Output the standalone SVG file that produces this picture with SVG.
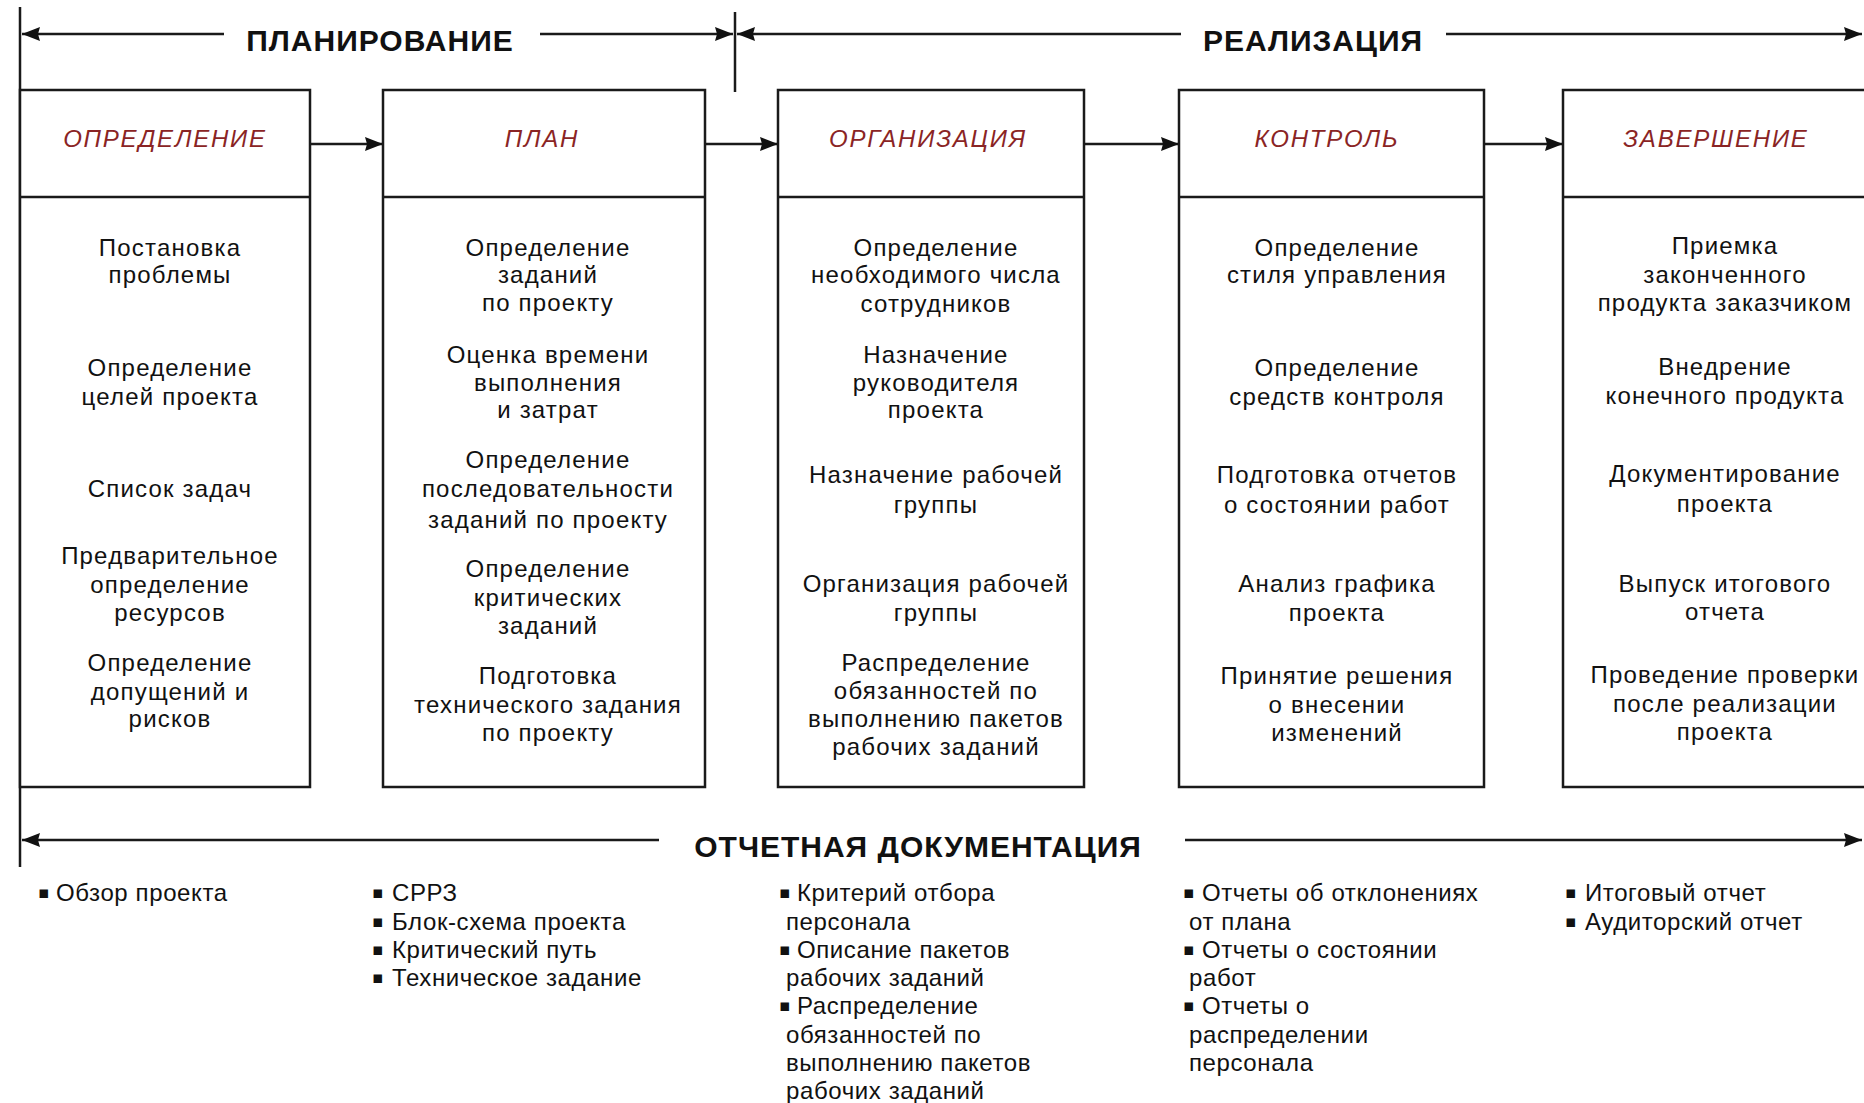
<svg xmlns="http://www.w3.org/2000/svg" width="1864" height="1103" viewBox="0 0 1864 1103">
<style>
.bg{fill:#ffffff}
.box{fill:#ffffff;stroke:#1a1a1a;stroke-width:2.5}
.sep{stroke:#1a1a1a;stroke-width:2.5}
.ln{stroke:#1a1a1a;stroke-width:2.5;fill:none}
.title{font-family:"Liberation Sans",Arial,sans-serif;font-weight:bold;font-size:30px;letter-spacing:1px;fill:#111;text-anchor:middle}
.hdr{font-family:"Liberation Sans",Arial,sans-serif;font-style:italic;font-size:24px;letter-spacing:1.8px;fill:#8a2424;text-anchor:middle}
.body{font-family:"Liberation Sans",Arial,sans-serif;font-size:24px;letter-spacing:1.2px;fill:#111;text-anchor:middle}
.list{font-family:"Liberation Sans",Arial,sans-serif;font-size:24px;letter-spacing:0.6px;fill:#111}
.bul{font-family:"DejaVu Sans",sans-serif;font-size:17px;fill:#111}
</style>
<defs>
<marker id="ah" viewBox="0 0 18 16" refX="18" refY="8" markerWidth="18" markerHeight="16" markerUnits="userSpaceOnUse" orient="auto-start-reverse">
<path d="M0,1 L18,8 L0,15 L2,8 z" fill="#111"/>
</marker>
</defs>
<rect class="bg" x="0" y="0" width="1864" height="1103"/>

<g id="connectors">
<line class="ln" x1="20" y1="7" x2="20" y2="867"/>
<line class="ln" x1="735" y1="12" x2="735" y2="92"/>
<line class="ln" x1="22" y1="34" x2="224" y2="34" marker-start="url(#ah)"/>
<line class="ln" x1="540" y1="34" x2="733" y2="34" marker-end="url(#ah)"/>
<line class="ln" x1="737" y1="34" x2="1181" y2="34" marker-start="url(#ah)"/>
<line class="ln" x1="1446" y1="34" x2="1862" y2="34" marker-end="url(#ah)"/>
<line class="ln" x1="22" y1="840" x2="659" y2="840" marker-start="url(#ah)"/>
<line class="ln" x1="1185" y1="840" x2="1862" y2="840" marker-end="url(#ah)"/>
<line class="ln" x1="310" y1="144" x2="383" y2="144" marker-end="url(#ah)"/>
<line class="ln" x1="705" y1="144" x2="778" y2="144" marker-end="url(#ah)"/>
<line class="ln" x1="1084" y1="144" x2="1179" y2="144" marker-end="url(#ah)"/>
<line class="ln" x1="1484" y1="144" x2="1563" y2="144" marker-end="url(#ah)"/>
</g>

<g id="labels">
<text class="title" x="380" y="51">ПЛАНИРОВАНИЕ</text>
<text class="title" x="1313" y="51">РЕАЛИЗАЦИЯ</text>
<text class="title" x="918" y="857">ОТЧЕТНАЯ ДОКУМЕНТАЦИЯ</text>
</g>

<g id="node-opredelenie">
<rect class="box" x="20" y="90" width="290" height="697"/>
<line class="sep" x1="20" y1="197" x2="310" y2="197"/>
<text class="hdr" x="165" y="147">ОПРЕДЕЛЕНИЕ</text>
<text class="body" x="170" y="256">Постановка</text>
<text class="body" x="170" y="283">проблемы</text>
<text class="body" x="170" y="376">Определение</text>
<text class="body" x="170" y="405">целей проекта</text>
<text class="body" x="170" y="497">Список задач</text>
<text class="body" x="170" y="564">Предварительное</text>
<text class="body" x="170" y="593">определение</text>
<text class="body" x="170" y="621">ресурсов</text>
<text class="body" x="170" y="671">Определение</text>
<text class="body" x="170" y="700">допущений и</text>
<text class="body" x="170" y="727">рисков</text>
</g>

<g id="node-plan">
<rect class="box" x="383" y="90" width="322" height="697"/>
<line class="sep" x1="383" y1="197" x2="705" y2="197"/>
<text class="hdr" x="542" y="147">ПЛАН</text>
<text class="body" x="548" y="256">Определение</text>
<text class="body" x="548" y="283">заданий</text>
<text class="body" x="548" y="311">по проекту</text>
<text class="body" x="548" y="363">Оценка времени</text>
<text class="body" x="548" y="391">выполнения</text>
<text class="body" x="548" y="418">и затрат</text>
<text class="body" x="548" y="468">Определение</text>
<text class="body" x="548" y="497">последовательности</text>
<text class="body" x="548" y="528">заданий по проекту</text>
<text class="body" x="548" y="577">Определение</text>
<text class="body" x="548" y="606">критических</text>
<text class="body" x="548" y="634">заданий</text>
<text class="body" x="548" y="684">Подготовка</text>
<text class="body" x="548" y="713">технического задания</text>
<text class="body" x="548" y="741">по проекту</text>
</g>

<g id="node-organizaciya">
<rect class="box" x="778" y="90" width="306" height="697"/>
<line class="sep" x1="778" y1="197" x2="1084" y2="197"/>
<text class="hdr" x="928" y="147">ОРГАНИЗАЦИЯ</text>
<text class="body" x="936" y="256">Определение</text>
<text class="body" x="936" y="283">необходимого числа</text>
<text class="body" x="936" y="312">сотрудников</text>
<text class="body" x="936" y="363">Назначение</text>
<text class="body" x="936" y="391">руководителя</text>
<text class="body" x="936" y="418">проекта</text>
<text class="body" x="936" y="483">Назначение рабочей</text>
<text class="body" x="936" y="513">группы</text>
<text class="body" x="936" y="592">Организация рабочей</text>
<text class="body" x="936" y="621">группы</text>
<text class="body" x="936" y="671">Распределение</text>
<text class="body" x="936" y="699">обязанностей по</text>
<text class="body" x="936" y="727">выполнению пакетов</text>
<text class="body" x="936" y="755">рабочих заданий</text>
</g>

<g id="node-kontrol">
<rect class="box" x="1179" y="90" width="305" height="697"/>
<line class="sep" x1="1179" y1="197" x2="1484" y2="197"/>
<text class="hdr" x="1327" y="147">КОНТРОЛЬ</text>
<text class="body" x="1337" y="256">Определение</text>
<text class="body" x="1337" y="283">стиля управления</text>
<text class="body" x="1337" y="376">Определение</text>
<text class="body" x="1337" y="405">средств контроля</text>
<text class="body" x="1337" y="483">Подготовка отчетов</text>
<text class="body" x="1337" y="513">о состоянии работ</text>
<text class="body" x="1337" y="592">Анализ графика</text>
<text class="body" x="1337" y="621">проекта</text>
<text class="body" x="1337" y="684">Принятие решения</text>
<text class="body" x="1337" y="713">о внесении</text>
<text class="body" x="1337" y="741">изменений</text>
</g>

<g id="node-zavershenie">
<rect class="box" x="1563" y="90" width="320" height="697"/>
<line class="sep" x1="1563" y1="197" x2="1883" y2="197"/>
<text class="hdr" x="1716" y="147">ЗАВЕРШЕНИЕ</text>
<text class="body" x="1725" y="254">Приемка</text>
<text class="body" x="1725" y="283">законченного</text>
<text class="body" x="1725" y="311">продукта заказчиком</text>
<text class="body" x="1725" y="375">Внедрение</text>
<text class="body" x="1725" y="404">конечного продукта</text>
<text class="body" x="1725" y="482">Документирование</text>
<text class="body" x="1725" y="512">проекта</text>
<text class="body" x="1725" y="592">Выпуск итогового</text>
<text class="body" x="1725" y="620">отчета</text>
<text class="body" x="1725" y="683">Проведение проверки</text>
<text class="body" x="1725" y="712">после реализации</text>
<text class="body" x="1725" y="740">проекта</text>
</g>

<g id="docs-opredelenie">
<text class="bul" x="38" y="898">▪</text>
<text class="list" x="56" y="901">Обзор проекта</text>
</g>

<g id="docs-plan">
<text class="bul" x="372" y="898">▪</text>
<text class="list" x="392" y="901">СРРЗ</text>
<text class="bul" x="372" y="927">▪</text>
<text class="list" x="392" y="930">Блок-схема проекта</text>
<text class="bul" x="372" y="955">▪</text>
<text class="list" x="392" y="958">Критический путь</text>
<text class="bul" x="372" y="983">▪</text>
<text class="list" x="392" y="986">Техническое задание</text>
</g>

<g id="docs-organizaciya">
<text class="bul" x="779" y="898">▪</text>
<text class="list" x="797" y="901">Критерий отбора</text>
<text class="list" x="786" y="930">персонала</text>
<text class="bul" x="779" y="955">▪</text>
<text class="list" x="797" y="958">Описание пакетов</text>
<text class="list" x="786" y="986">рабочих заданий</text>
<text class="bul" x="779" y="1011">▪</text>
<text class="list" x="797" y="1014">Распределение</text>
<text class="list" x="786" y="1043">обязанностей по</text>
<text class="list" x="786" y="1071">выполнению пакетов</text>
<text class="list" x="786" y="1099">рабочих заданий</text>
</g>

<g id="docs-kontrol">
<text class="bul" x="1183" y="898">▪</text>
<text class="list" x="1202" y="901">Отчеты об отклонениях</text>
<text class="list" x="1189" y="930">от плана</text>
<text class="bul" x="1183" y="955">▪</text>
<text class="list" x="1202" y="958">Отчеты о состоянии</text>
<text class="list" x="1189" y="986">работ</text>
<text class="bul" x="1183" y="1011">▪</text>
<text class="list" x="1202" y="1014">Отчеты о</text>
<text class="list" x="1189" y="1043">распределении</text>
<text class="list" x="1189" y="1071">персонала</text>
</g>

<g id="docs-zavershenie">
<text class="bul" x="1565" y="898">▪</text>
<text class="list" x="1585" y="901">Итоговый отчет</text>
<text class="bul" x="1565" y="927">▪</text>
<text class="list" x="1585" y="930">Аудиторский отчет</text>
</g>
</svg>
